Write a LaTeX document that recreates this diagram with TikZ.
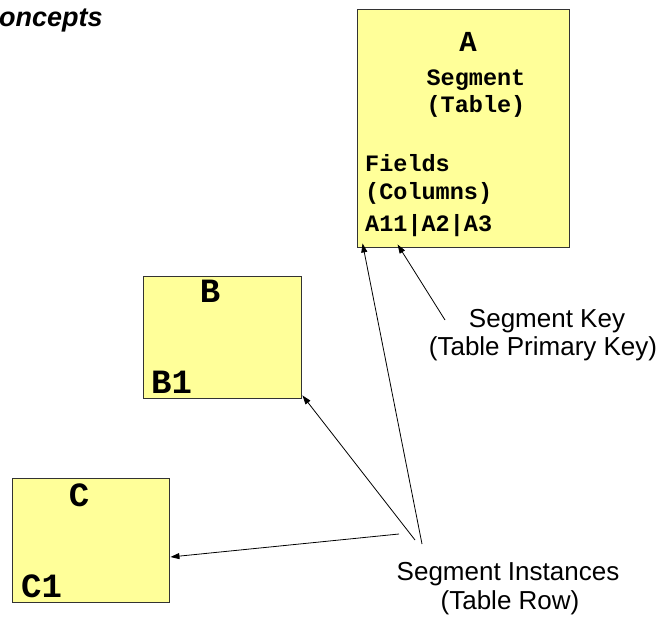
\documentclass[tikz,border=0pt]{standalone}
\usepackage{fontspec}
\setmainfont{Liberation Sans}
\newfontfamily\courb{Liberation Mono}
\usetikzlibrary{arrows.meta}
\tikzset{
  segbox/.style={draw=black!80, line width=0.9pt, fill=segyellow, inner sep=0pt},
  monotxt/.style={inner sep=0pt, anchor=base west, font=\courb\bfseries\fontsize{23.5}{25}\selectfont},
  montmid/.style={inner sep=0pt, anchor=base, font=\courb\bfseries\fontsize{23.5}{25}\selectfont},
  bigtxt/.style={inner sep=0pt, font=\courb\bfseries\fontsize{34}{36}\selectfont},
  labeltxt/.style={inner sep=0pt, anchor=base, font=\fontsize{26}{28}\selectfont},
  ptr/.style={draw=black, line width=0.8pt, -{Triangle[length=9pt,width=6pt]}}
}
\definecolor{segyellow}{HTML}{FFFF99}
\begin{document}
\begin{tikzpicture}[x=1pt,y=-1pt]
\useasboundingbox (0,0) rectangle (667,620);
% title fragment
\node[inner sep=0pt, anchor=base west, font=\bfseries\itshape\fontsize{27}{29}\selectfont] (title) at (-1,27) {oncepts};
% boxes
\node[segbox, minimum width=212pt, minimum height=238pt] (A) at (463,128) {};
\node[segbox, minimum width=158pt, minimum height=122pt] (B) at (222,337) {};
\node[segbox, minimum width=157pt, minimum height=124pt] (C) at (90.5,540) {};
% box A texts
\node[bigtxt, anchor=base, font=\courb\bfseries\fontsize{29}{31}\selectfont] (Aname) at (468,52) {A};
\node[montmid] (Aseg) at (476,86) {Segment};
\node[montmid] (Atab) at (476,113) {(Table)};
\node[monotxt] (Afld) at (365,172) {Fields};
\node[monotxt] (Acol) at (365,200) {(Columns)};
\node[monotxt] (Akey) at (365,232) {A11|A2|A3};
% box B texts
\node[bigtxt, anchor=base] (Bname) at (210,303) {B};
\node[bigtxt, anchor=base west] (Binst) at (151,393) {B1};
% box C texts
\node[bigtxt, anchor=base] (Cname) at (79,506) {C};
\node[bigtxt, anchor=base west] (Cinst) at (21,597) {C1};
% labels
\node[labeltxt] (keyl1) at (547,328) {Segment Key};
\node[labeltxt] (keyl2) at (543,356) {(Table Primary Key)};
\node[labeltxt] (instl1) at (508,580) {Segment Instances};
\node[labeltxt] (instl2) at (510,609) {(Table Row)};
% connector start points
\coordinate (sk) at (445,320);
\coordinate (siA) at (422,544);
\coordinate (siB) at (415,540);
\coordinate (siC) at (399,534);
% connectors
\draw[ptr] (sk) -- ([xshift=41pt,yshift=3pt]A.south west);
\draw[ptr] (siA) -- ([xshift=6pt,yshift=4pt]A.south west);
\draw[ptr] (siB) -- ([xshift=1pt,yshift=3pt]B.south east);
\draw[ptr] (siC) -- ([xshift=1pt,yshift=-17pt]C.east);
\end{tikzpicture}
\end{document}
